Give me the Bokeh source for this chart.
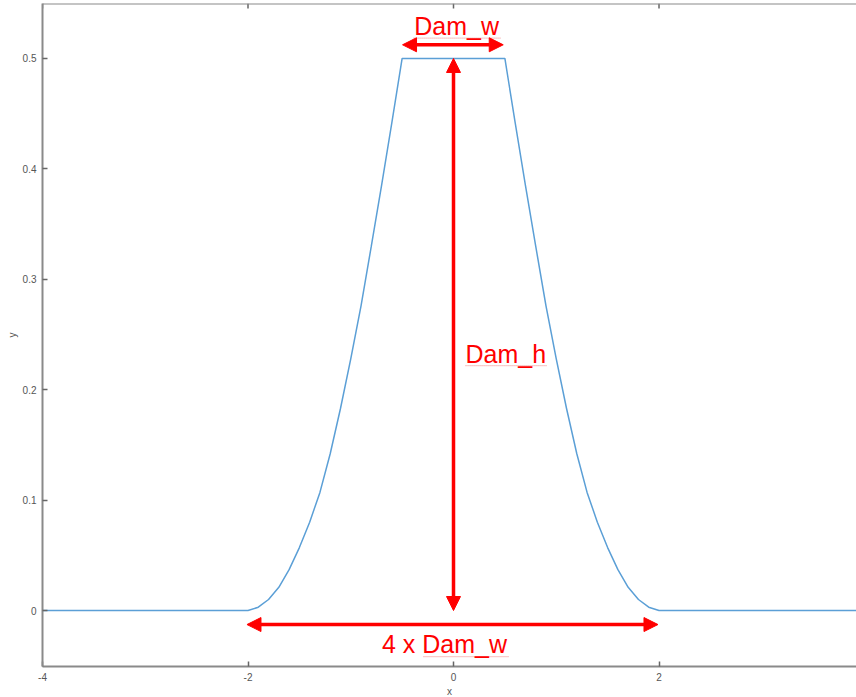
from bokeh.plotting import figure
from bokeh.models import Arrow, NormalHead, ColumnDataSource, FixedTicker, Range1d, Span
from bokeh.core.properties import value
from bokeh.embed import file_html
from bokeh.resources import INLINE

# Dam profile
profile_x = [-4.0, -2.0, -1.9, -1.8, -1.7, -1.6, -1.5, -1.4, -1.3, -1.2, -1.1, -1.0, -0.9, -0.8, -0.7, -0.6, -0.5,
             0.5, 0.6, 0.7, 0.8, 0.9, 1.0, 1.1, 1.2, 1.3, 1.4, 1.5, 1.6, 1.7, 1.8, 1.9, 2.0, 4.0]
profile_y = [0.0, 0.0, 0.003, 0.010, 0.021, 0.037, 0.057, 0.080, 0.107, 0.142, 0.183, 0.228, 0.276, 0.330, 0.385, 0.442, 0.500,
             0.500, 0.442, 0.385, 0.330, 0.276, 0.228, 0.183, 0.142, 0.107, 0.080, 0.057, 0.037, 0.021, 0.010, 0.003, 0.0, 0.0]

x_ticks = [-4, -2, 0, 2, 4]
x_tick_labels = ["-4", "-2", "0", "2", "4"]
y_ticks = [0, 0.1, 0.2, 0.3, 0.4, 0.5]
y_tick_labels = ["0", "0.1", "0.2", "0.3", "0.4", "0.5"]

# Dimension arrows
arrow_x_start = [-0.496, 0.0, -2.01]
arrow_y_start = [0.5124, 0.0, -0.0127]
arrow_x_end = [0.484, 0.0, 1.99]
arrow_y_end = [0.5124, 0.5, -0.0127]

# Dimension labels
label_text = ["Dam_w", "Dam_h", "4 x Dam_w"]
label_x = [0.03, 0.117, -0.088]
label_y = [0.5293, 0.2327, -0.030]
label_align = ["center", "left", "center"]

# spell-check squiggles under labels
squiggle_x0 = [-0.389, 0.117, -0.292]
squiggle_x1 = [0.457, 0.905, 0.535]
squiggle_y = [0.5184, 0.2219, -0.0417]

X_MIN, X_MAX = -4, 3.922
Y_MIN, Y_MAX = -0.0507, 0.5498

AXIS_GRAY = "#8a8a8a"
LABEL_GRAY = "#555555"
FONT = "Liberation Sans"

p = figure(frame_width=814, frame_height=663,
           x_range=Range1d(X_MIN, X_MAX), y_range=Range1d(Y_MIN, Y_MAX),
           output_backend="svg", toolbar_location=None,
           min_border_left=42, min_border_top=3, min_border_right=0, min_border_bottom=0,
           x_axis_label="x", y_axis_label="y")
p.background_fill_color = "white"
p.border_fill_color = "white"
p.grid.visible = False
p.outline_line_color = None

axes = [(p.below[0], x_ticks, x_tick_labels), (p.left[0], y_ticks, y_tick_labels)]
for ax, ticks, labels in axes:
    ax.ticker = FixedTicker(ticks=ticks)
    ax.major_label_overrides = {t: l for t, l in zip(ticks, labels)}
    ax.minor_tick_line_color = None
    ax.major_tick_in = 5
    ax.major_tick_out = 0
    ax.axis_line_color = AXIS_GRAY
    ax.axis_line_width = 2
    ax.major_tick_line_color = "#666666"
    ax.major_tick_line_width = 1.5
    ax.major_label_text_font = FONT
    ax.major_label_text_font_size = "10px"
    ax.major_label_text_color = LABEL_GRAY
    ax.axis_label_text_font = FONT
    ax.axis_label_text_font_size = "10px"
    ax.axis_label_text_font_style = "normal"
    ax.axis_label_text_color = LABEL_GRAY
    ax.major_label_standoff = 6
    ax.axis_label_standoff = 2

# top border of the box with inward ticks
p.add_layout(Span(location=Y_MAX, dimension="width", line_color=AXIS_GRAY, line_width=2))
tick_len = (Y_MAX - Y_MIN) * 5 / 663
p.segment(x0=x_ticks, y0=[Y_MAX] * len(x_ticks), x1=x_ticks, y1=[Y_MAX - tick_len] * len(x_ticks),
          line_color="#666666", line_width=1.5)

p.line(profile_x, profile_y, line_color="#5b9fd6", line_width=1.5)

src_sq = ColumnDataSource(dict(x0=squiggle_x0, x1=squiggle_x1, y=squiggle_y))
p.segment(x0="x0", y0="y", x1="x1", y1="y", source=src_sq,
          line_color="#f29a9a", line_width=1.2, line_dash="1 1")

src_ar = ColumnDataSource(dict(xs=arrow_x_start, ys=arrow_y_start, xe=arrow_x_end, ye=arrow_y_end))
p.add_layout(Arrow(x_start="xs", y_start="ys", x_end="xe", y_end="ye", source=src_ar,
                   line_color="#ff0000", line_width=3.5,
                   start=NormalHead(size=14, fill_color="#ff0000", line_color="#ff0000", line_width=1),
                   end=NormalHead(size=14, fill_color="#ff0000", line_color="#ff0000", line_width=1)))

src_lb = ColumnDataSource(dict(x=label_x, y=label_y, t=label_text, a=label_align))
p.text(x="x", y="y", text="t", text_align="a", text_baseline="alphabetic", source=src_lb,
       text_color="#ff0000", text_font=value(FONT), text_font_size="25px")

open("out.html", "w").write(file_html(p, INLINE))
